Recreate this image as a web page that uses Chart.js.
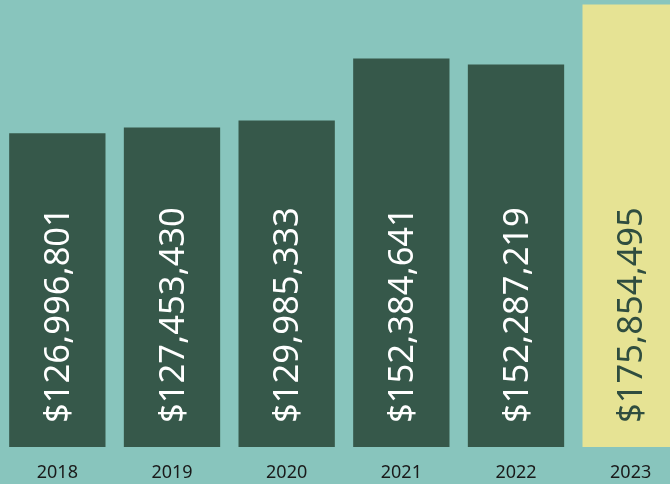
<!DOCTYPE html>
<html>
<head>
<meta charset="utf-8">
<script src="https://cdn.jsdelivr.net/npm/chart.js@4"></script>
<style>
  html, body { margin: 0; padding: 0; background: #88c5bd; overflow: hidden; }
  #wrap { width: 688px; height: 484px; }
</style>
</head>
<body>
<div id="wrap"><canvas id="chart"></canvas></div>
<script>
// chart data
const years = ["2018", "2019", "2020", "2021", "2022", "2023"];
// bar heights (millions) as drawn
const barValues = [127.0, 129.4, 132.2, 157.3, 154.9, 179.2];
// amounts printed inside the bars
const amounts = [126996801, 127453430, 129985333, 152384641, 152287219, 175854495];

const DARK = "#36584a";
const HIGHLIGHT = "#e6e394";
const FONT = "'Noto Sans', sans-serif";

const barColors = years.map((y, i) => (i === years.length - 1 ? HIGHLIGHT : DARK));
const labelColors = years.map((y, i) => (i === years.length - 1 ? "#2f4d3f" : "#ffffff"));

// draws the rotated amount inside each bar
const barLabels = {
  id: "barLabels",
  afterDatasetsDraw(chart) {
    const ctx = chart.ctx;
    const meta = chart.getDatasetMeta(0);
    const bottom = chart.chartArea.bottom;
    ctx.save();
    ctx.font = "34.5px " + FONT;
    ctx.textAlign = "left";
    ctx.textBaseline = "middle";
    meta.data.forEach((bar, i) => {
      const txt = "$" + amounts[i].toLocaleString("en-US");
      ctx.save();
      ctx.translate(bar.x + 2, bottom - 24);
      ctx.rotate(-Math.PI / 2);
      ctx.fillStyle = labelColors[i];
      ctx.fillText(txt, 0, 0);
      ctx.restore();
    });
    ctx.restore();
  }
};

new Chart(document.getElementById("chart"), {
  type: "bar",
  data: {
    labels: years,
    datasets: [{
      data: barValues,
      backgroundColor: barColors,
      borderWidth: 0,
      barPercentage: 0.84,
      categoryPercentage: 1
    }]
  },
  options: {
    responsive: true,
    maintainAspectRatio: false,
    animation: false,
    layout: { padding: 0 },
    plugins: {
      legend: { display: false },
      tooltip: { enabled: false }
    },
    scales: {
      x: {
        grid: { display: false, drawTicks: false },
        border: { display: false },
        ticks: {
          color: "#1a1a1a",
          font: { family: FONT, size: 18 },
          padding: 15,
          maxRotation: 0
        },
        afterFit(scale) { scale.height = 37; }
      },
      y: {
        display: false,
        min: 0,
        max: 181
      }
    }
  },
  plugins: [barLabels]
});
</script>
</body>
</html>
